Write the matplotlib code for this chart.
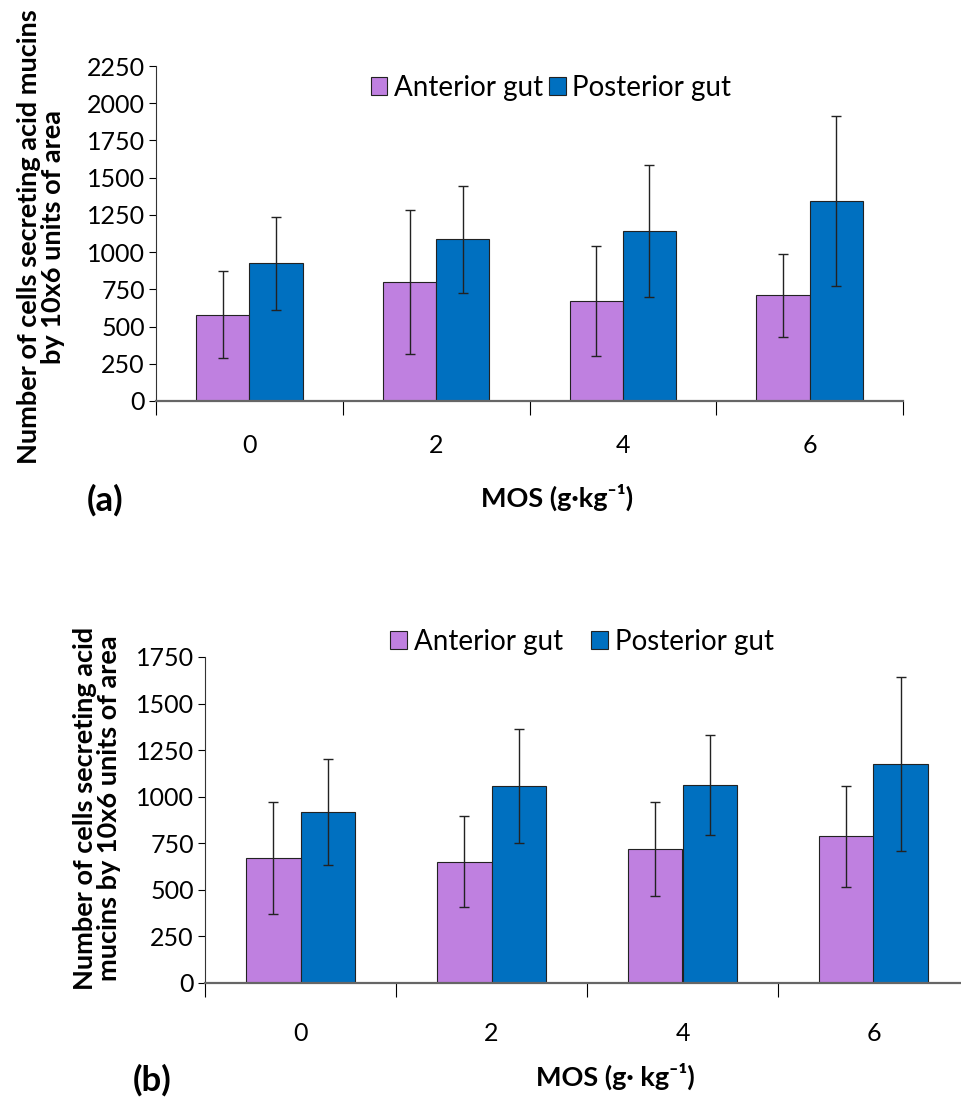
import numpy as np
import matplotlib
matplotlib.use("Agg")
import matplotlib.pyplot as plt

plt.rcParams['font.family'] = ['Lato', 'DejaVu Sans']

# ---------- data -------------------------------------------------------------
doses = ["0", "2", "4", "6"]
series = ["Anterior gut", "Posterior gut"]

# panel (a)
a_anterior = [580, 798, 670, 710]
a_anterior_sd = [290, 484, 370, 280]
a_posterior = [925, 1087, 1141, 1344]
a_posterior_sd = [312, 360, 441, 571]

# panel (b)
b_anterior = [669, 651, 719, 787]
b_anterior_sd = [300, 245, 250, 271]
b_posterior = [916, 1056, 1063, 1176]
b_posterior_sd = [284, 305, 267, 468]

COLORS = ["#BF80E0", "#0070C0"]
W = 0.285
FW, FH = 962, 1098

fig = plt.figure(figsize=(FW / 100, FH / 100), dpi=100)


def px(x, y):
    # pixel position (from top-left) -> figure fraction
    return x / FW, 1 - y / FH


def panel(rect, ant, ant_sd, post, post_sd, ymax, ylab, ylab_xy, xlab,
          xlab_xy, tag, tag_xy, leg_xy, colsp, label_pad):
    ax = fig.add_axes(rect)
    x = np.arange(len(doses))
    ax.bar(x - W / 2, ant, W, color=COLORS[0], edgecolor="#222222",
           linewidth=0.8, label=series[0], zorder=2)
    ax.bar(x + W / 2, post, W, color=COLORS[1], edgecolor="#222222",
           linewidth=0.8, label=series[1], zorder=2)
    ax.errorbar(x - W / 2, ant, yerr=ant_sd, fmt="none", ecolor="#222222",
                elinewidth=1, capsize=3.6, capthick=1, zorder=3)
    ax.errorbar(x + W / 2, post, yerr=post_sd, fmt="none", ecolor="#222222",
                elinewidth=1, capsize=3.6, capthick=1, zorder=3)

    ax.set_xlim(-0.5, len(doses) - 0.5)
    ax.set_ylim(0, ymax)
    ax.set_yticks(np.arange(0, ymax + 1, 250))
    ax.tick_params(axis="y", labelsize=18, length=5, width=0.8, pad=3)

    # tick marks between categories, labels at category centres
    ax.set_xticks(np.arange(-0.5, len(doses), 1.0))
    ax.set_xticklabels([])
    ax.set_xticks(x, minor=True)
    ax.set_xticklabels(doses, minor=True, fontsize=18)
    ax.tick_params(axis="x", which="major", length=10, width=0.8, direction="out")
    ax.tick_params(axis="x", which="minor", length=0, pad=label_pad)

    for s in ["top", "right"]:
        ax.spines[s].set_visible(False)
    ax.spines["left"].set_linewidth(0.8)
    ax.spines["left"].set_color("#333333")
    ax.spines["bottom"].set_color("#666666")
    ax.spines["bottom"].set_linewidth(1.6)

    fig.text(*px(*ylab_xy), ylab, fontsize=19.5, fontweight="bold",
             rotation=90, ha="center", va="center", linespacing=1.0)
    fig.text(*px(*xlab_xy), xlab, fontsize=19.5, fontweight="bold",
             ha="center", va="center")
    fig.text(*px(*tag_xy), tag, fontsize=25, fontweight="bold",
             ha="center", va="center")

    leg = ax.legend(loc="center", bbox_to_anchor=px(*leg_xy),
                    bbox_transform=fig.transFigure, ncol=2, frameon=False,
                    fontsize=20, handlelength=0.6, handleheight=0.6,
                    handletextpad=0.25, columnspacing=colsp, borderpad=0)
    for h in leg.legend_handles:
        h.set_edgecolor("#222222")
        h.set_linewidth(0.8)
    return ax


panel([156 / FW, 1 - 401 / FH, 747 / FW, 335 / FH],
      a_anterior, a_anterior_sd, a_posterior, a_posterior_sd, 2250,
      "Number of cells secreting acid mucins\nby 10x6 units of area", (41, 237),
      "MOS (g·kg⁻¹)", (557, 497), "(a)", (105, 500), (551, 88), 0.2, 24)

panel([205 / FW, 1 - 983 / FH, 764 / FW, 326 / FH],
      b_anterior, b_anterior_sd, b_posterior, b_posterior_sd, 1750,
      "Number of cells secreting acid\nmucins by 10x6 units of area", (97, 808),
      "MOS (g· kg⁻¹)", (615, 1076), "(b)", (152, 1080), (582, 642), 1.0, 28)

fig.savefig("out.png", dpi=100)
